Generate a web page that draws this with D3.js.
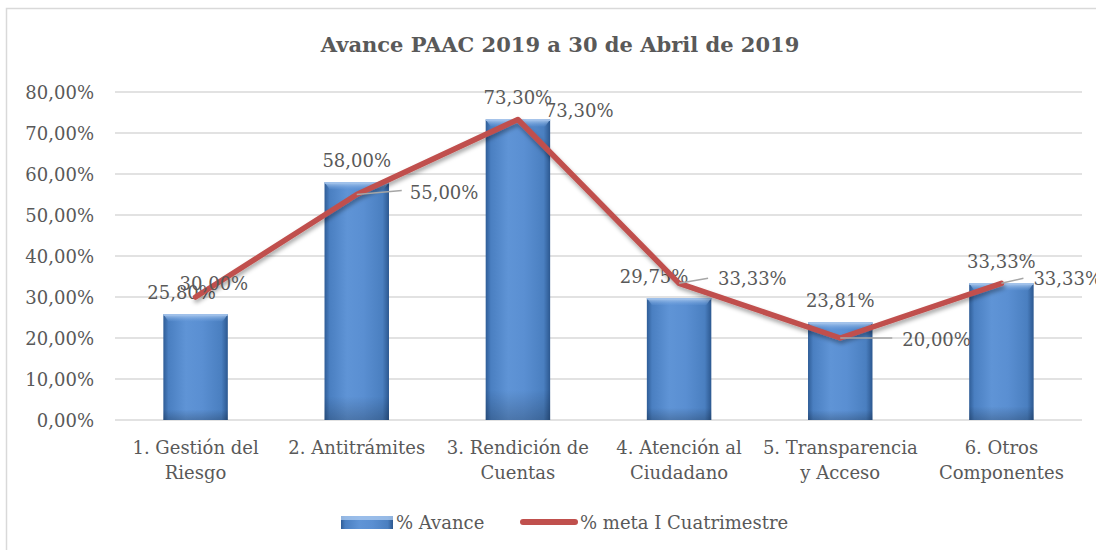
<!DOCTYPE html>
<html><head><meta charset="utf-8">
<script src="https://cdn.jsdelivr.net/npm/d3@7"></script>
<style>
html,body{margin:0;padding:0;background:#fff;}
svg{display:block;}
text{font-family:"DejaVu Serif",serif;fill:#595959;}
</style></head><body>
<svg id="c" width="1096" height="550"></svg>
<script>
// ---- data ----
const categories = [["1. Gestión del","Riesgo"],["2. Antitrámites"],["3. Rendición de","Cuentas"],["4. Atención al","Ciudadano"],["5. Transparencia","y Acceso"],["6. Otros","Componentes"]];
const avance = [25.80, 58.00, 73.30, 29.75, 23.81, 33.33];
const meta = [30.00, 55.00, 73.30, 33.33, 20.00, 33.33];
const yTicks = [0,10,20,30,40,50,60,70,80];
const seriesNames = ["% Avance","% meta I Cuatrimestre"];
const title = "Avance PAAC 2019 a 30 de Abril de 2019";

// ---- layout (label placement, not data) ----
const barLabelDx = [-14,0,0,-25,0,0];
const metaLabel = [
  {dx:-16, dy:-7, leader:false},
  {dx:53, dy:4, leader:true, lx:45, ly:-4},
  {dx:27, dy:-2, leader:false},
  {dx:39, dy:2, leader:true, lx:29, ly:-5},
  {dx:62, dy:8, leader:true, lx:52, ly:0},
  {dx:32, dy:2, leader:true, lx:22, ly:-5}
];
const FS = "18px";

const fmt = v => v.toFixed(2).replace(".", ",") + "%";
const svg = d3.select("#c");
const defs = svg.append("defs");

const gH = defs.append("linearGradient").attr("id","barH").attr("x1","0").attr("x2","1").attr("y1","0").attr("y2","0");
[[0,"#2f5d97"],[0.08,"#4a7fc1"],[0.35,"#5f94d6"],[0.6,"#5a8fd2"],[0.9,"#4a7fc0"],[1,"#2c5890"]]
  .forEach(s=>gH.append("stop").attr("offset",s[0]).attr("stop-color",s[1]));
const gT = defs.append("linearGradient").attr("id","barT").attr("x1","0").attr("x2","0").attr("y1","0").attr("y2","1");
[[0,"#b9d3f2",0.95],[1,"#6b9ddc",0.2]].forEach(s=>gT.append("stop").attr("offset",s[0]).attr("stop-color",s[1]).attr("stop-opacity",s[2]));
const gV = defs.append("linearGradient").attr("id","barV").attr("x1","0").attr("x2","0").attr("y1","0").attr("y2","1");
[[0,"#000",0],[0.9,"#000",0],[1,"#000",0.2]].forEach(s=>gV.append("stop").attr("offset",s[0]).attr("stop-color",s[1]).attr("stop-opacity",s[2]));
const sh = defs.append("filter").attr("id","shadow").attr("x","-10%").attr("y","-10%").attr("width","120%").attr("height","130%");
sh.append("feDropShadow").attr("dx",1).attr("dy",3).attr("stdDeviation",2).attr("flood-color","#000").attr("flood-opacity",0.35);

// chart border
svg.append("rect").attr("x",6.5).attr("y",8.5).attr("width",1200).attr("height",700)
  .attr("fill","none").attr("stroke","#d9d9d9").attr("stroke-width",1.5);

// title
svg.append("text").attr("x",560).attr("y",52).attr("text-anchor","middle")
  .style("font-size","21px").style("font-weight","bold").text(title);

const x = d3.scaleBand().domain(d3.range(categories.length)).range([115,1082]).paddingInner(0.6).paddingOuter(0.3);
const y = d3.scaleLinear().domain([0,80]).range([420,92]);
const cx = i => x(i) + x.bandwidth()/2;

// gridlines
svg.append("g").selectAll("line").data(yTicks).join("line")
  .attr("x1",115).attr("x2",1082).attr("y1",d=>y(d)).attr("y2",d=>y(d))
  .attr("stroke","#d9d9d9").attr("stroke-width",1.5);

// y axis labels
const yAxis = d3.axisLeft(y).tickValues(yTicks).tickFormat(fmt).tickSize(0).tickPadding(0);
const ya = svg.append("g").attr("transform","translate(94,0)").call(yAxis);
ya.select(".domain").remove();
ya.selectAll("text").style("font-size",FS).style("font-family","DejaVu Serif").attr("fill","#595959").attr("dy","0.35em");

// x axis labels
const xl = svg.append("g").selectAll("text").data(categories).join("text")
  .attr("text-anchor","middle").attr("x",(d,i)=>cx(i)).attr("y",454).style("font-size",FS);
xl.each(function(d){
  const t=d3.select(this);
  d.forEach((s,k)=>t.append("tspan").attr("x",t.attr("x")).attr("dy",k?25:0).text(s));
});

// bars
const bars = svg.append("g").selectAll("g").data(avance).join("g");
bars.append("rect").attr("x",(d,i)=>x(i)).attr("y",d=>y(d)).attr("width",x.bandwidth()).attr("height",d=>y(0)-y(d)).attr("fill","url(#barH)");
bars.append("rect").attr("x",(d,i)=>x(i)).attr("y",d=>y(d)).attr("width",x.bandwidth()).attr("height",d=>y(0)-y(d)).attr("fill","url(#barV)");
bars.append("path").attr("d",(d,i)=>{const x0=x(i),x1=x0+x.bandwidth(),t=y(d);return `M${x0},${t}L${x1},${t}L${x1-5},${t+7}L${x0+5},${t+7}Z`;}).attr("fill","url(#barT)");
bars.append("rect").attr("x",(d,i)=>x(i)).attr("y",d=>y(d)).attr("width",x.bandwidth()).attr("height",1.5).attr("fill","#9fc0ea");

// bar labels
svg.append("g").selectAll("text").data(avance).join("text")
  .attr("text-anchor","middle").attr("x",(d,i)=>cx(i)+barLabelDx[i]).attr("y",d=>y(d)-15)
  .style("font-size",FS).text(fmt);

// meta line
const line = d3.line().x((d,i)=>cx(i)).y(d=>y(d));
svg.append("path").datum(meta).attr("d",line).attr("fill","none").attr("stroke","#c0504d")
  .attr("stroke-width",5.5).attr("stroke-linejoin","round").attr("stroke-linecap","round").attr("filter","url(#shadow)");

// meta leaders and labels
const ml = svg.append("g");
meta.forEach((v,i)=>{
  const L=metaLabel[i], px=cx(i), py=y(v);
  if(L.leader) ml.append("line").attr("x1",px).attr("y1",py).attr("x2",px+L.lx).attr("y2",py+L.ly).attr("stroke","#a6a6a6").attr("stroke-width",1.5);
  ml.append("text").attr("x",px+L.dx).attr("y",py+L.dy).style("font-size",FS).text(fmt(v));
});

// legend
const lg = svg.append("g");
lg.append("rect").attr("x",341).attr("y",516).attr("width",52).attr("height",13).attr("fill","url(#barH)");
lg.append("rect").attr("x",341).attr("y",516).attr("width",52).attr("height",4).attr("fill","#a9c8ef").attr("opacity",0.8);
lg.append("text").attr("x",396).attr("y",529).style("font-size",FS).text(seriesNames[0]);
lg.append("line").attr("x1",523).attr("x2",575).attr("y1",522).attr("y2",522).attr("stroke","#c0504d").attr("stroke-width",6).attr("stroke-linecap","round");
lg.append("text").attr("x",580).attr("y",529).style("font-size",FS).text(seriesNames[1]);
</script>
</body></html>
